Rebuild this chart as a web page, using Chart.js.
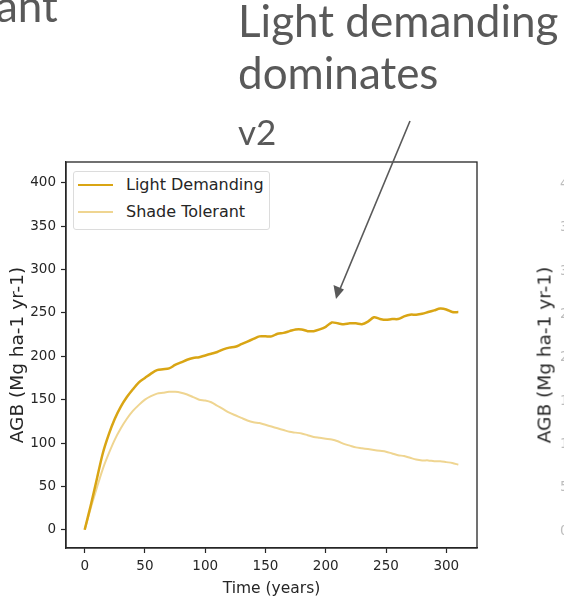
<!DOCTYPE html>
<html>
<head>
<meta charset="utf-8">
<script src="https://cdn.jsdelivr.net/npm/chart.js@4.4.0/dist/chart.umd.min.js"></script>
<style>
  html, body { margin: 0; padding: 0; background: #fff; }
  #page { position: relative; width: 564px; height: 603px; overflow: hidden; background: #fff; }
  #agbChart { position: absolute; left: 0; top: 0; }
  .slide { position: absolute; font-family: Lato, sans-serif; font-size: 44px; line-height: 44px; color: #595959; white-space: nowrap; }
  #legend { position: absolute; left: 73px; top: 171px; width: 197px; height: 59px; box-sizing: border-box;
            border: 1px solid #dcdcdc; border-radius: 3px; background: #fff;
            font-family: "DejaVu Sans", sans-serif; font-size: 16px; color: #262626; }
  #legend .item { position: absolute; left: 4px; height: 20px; line-height: 20px; }
  #legend .swatch { position: absolute; left: 0; top: 9px; width: 35px; }
  #legend .label { position: absolute; left: 48px; top: 0; white-space: nowrap; }
  .sideLabel { position: absolute; font-family: "DejaVu Sans", sans-serif; font-size: 18.5px; color: #262626;
               white-space: nowrap; transform: translate(-50%, -50%) rotate(-90deg); }
  .sideTick { position: absolute; left: 560px; font-family: "DejaVu Sans", sans-serif; font-size: 13.5px;
              line-height: 14px; color: #bdbdbd; white-space: nowrap; }
  #arrow { position: absolute; left: 0; top: 0; }
</style>
</head>
<body>
<div id="page">
  <canvas id="agbChart" width="564" height="603"></canvas>
  <div class="slide" style="left:-4px; top:-17px;">ant</div>
  <div class="slide" style="left:238px; top:-2px;">Light demanding</div>
  <div class="slide" style="left:238px; top:50px;">dominates</div>
  <div class="slide" style="left:238px; top:114px; font-size:35px; line-height:35px;">v2</div>
  <div class="sideLabel" style="left:544px; top:355px;">AGB (Mg ha-1 yr-1)</div>
  <div id="legend"></div>
  <svg id="arrow" width="564" height="603">
    <line x1="410" y1="121" x2="340" y2="289" stroke="#595959" stroke-width="1.6"/>
    <polygon points="336,299 333.5,285 344,289.5" fill="#595959"/>
  </svg>
</div>
<script>
// simulated above-ground biomass by functional group
var years = [0, 5, 10, 15, 20, 25, 30, 35, 40, 45, 50, 55, 60, 65, 70, 75, 80, 85, 90, 95,
  100, 105, 110, 115, 120, 125, 130, 135, 140, 145, 150, 155, 160, 165, 170, 175, 180, 185, 190, 195,
  200, 205, 210, 215, 220, 225, 230, 235, 240, 245, 250, 255, 260, 265, 270, 275, 280, 285, 290, 295,
  300, 305, 310];

var lightDemanding = [0, 28, 58, 88, 110, 128, 142, 153, 162, 170, 175, 180, 184, 185, 186, 190, 193, 196, 198, 199,
  201, 203, 205, 208, 210, 211, 214, 217, 220, 223, 223, 223, 226, 227, 229, 231, 231, 229, 229, 231,
  234, 239, 238, 237, 238, 238, 237, 240, 245, 243, 242, 243, 243, 246, 248, 248, 249, 251, 253, 255,
  254, 251, 251];

var shadeTolerant = [0, 25, 48, 70, 88, 104, 117, 128, 137, 144, 150, 154, 157, 158, 159, 159, 158, 156, 153, 150,
  149, 147, 143, 139, 135, 132, 129, 126, 124, 123, 121, 119, 117, 115, 113, 112, 111, 109, 107, 106,
  105, 104, 102, 99, 97, 95, 94, 93, 92, 91, 90, 88, 86, 85, 83, 81, 80, 80, 79, 79,
  78, 77, 75];

var xTicks = [0, 50, 100, 150, 200, 250, 300];
var yTicks = [0, 50, 100, 150, 200, 250, 300, 350, 400];

var series = [
  { label: "Light Demanding", values: lightDemanding, color: "#d9a514", width: 2.5 },
  { label: "Shade Tolerant", values: shadeTolerant, color: "#efd591", width: 2 },
];

var axisColor = "#262626";
var tickFont = { family: "DejaVu Sans", size: 13.5 };

// matplotlib style box round the plot
var frame = {
  id: "frame",
  afterDraw: function (chart) {
    var ctx = chart.ctx;
    var a = chart.chartArea;
    ctx.save();
    ctx.strokeStyle = axisColor;
    ctx.lineWidth = 1.3;
    ctx.strokeRect(a.left, a.top, a.right - a.left, a.bottom - a.top);
    ctx.restore();
  },
};

var chart = new Chart("agbChart", {
  type: "line",
  data: {
    datasets: series.map(function (s) {
      return {
        label: s.label,
        data: years.map(function (yr, i) {
          return { x: yr, y: s.values[i] };
        }),
        borderColor: s.color,
        borderWidth: s.width,
        pointRadius: 0,
        tension: 0.3,
        fill: false,
      };
    }),
  },
  options: {
    responsive: false,
    animation: false,
    devicePixelRatio: 1,
    layout: { padding: { left: 0, top: 162, right: 87, bottom: 0 } },
    plugins: { legend: { display: false }, tooltip: { enabled: false } },
    scales: {
      x: {
        type: "linear",
        min: -15.5,
        max: 325.5,
        afterBuildTicks: function (scale) {
          scale.ticks = xTicks.map(function (v) { return { value: v }; });
        },
        afterFit: function (scale) { scale.height = 55; },
        grid: { drawOnChartArea: false, tickLength: 5, tickColor: axisColor, tickWidth: 1.2 },
        border: { display: true, color: axisColor, width: 1.3 },
        ticks: { color: axisColor, padding: 5, maxRotation: 0, font: tickFont },
        title: {
          display: true,
          text: "Time (years)",
          color: axisColor,
          font: { family: "DejaVu Sans", size: 15.5 },
          padding: { top: 0, bottom: 5 },
        },
      },
      y: {
        type: "linear",
        min: -21,
        max: 424,
        afterBuildTicks: function (scale) {
          scale.ticks = yTicks.map(function (v) { return { value: v }; });
        },
        afterFit: function (scale) { scale.width = 66; },
        grid: { drawOnChartArea: false, tickLength: 5, tickColor: axisColor, tickWidth: 1.2 },
        border: { display: true, color: axisColor, width: 1.3 },
        ticks: { color: axisColor, padding: 5, font: tickFont },
        title: {
          display: true,
          text: "AGB (Mg ha-1 yr-1)",
          color: axisColor,
          font: { family: "DejaVu Sans", size: 18.5 },
          padding: { top: 7, bottom: 0 },
        },
      },
    },
  },
  plugins: [frame],
});

// legend drawn in html, from the same series list
var legend = document.getElementById("legend");
series.forEach(function (s, i) {
  var item = document.createElement("div");
  item.className = "item";
  item.style.top = 3 + i * 27 + "px";
  item.style.width = "190px";
  item.innerHTML =
    '<div class="swatch" style="border-top:' + s.width + "px solid " + s.color + '"></div>' +
    '<div class="label">' + s.label + "</div>";
  legend.appendChild(item);
});

// tick labels of the next panel, cut by the page edge
var page = document.getElementById("page");
var yScale = chart.scales.y;
yTicks.forEach(function (v) {
  var t = document.createElement("div");
  t.className = "sideTick";
  t.style.top = yScale.getPixelForValue(v) - 7 + "px";
  t.textContent = v;
  page.appendChild(t);
});
</script>
</body>
</html>
